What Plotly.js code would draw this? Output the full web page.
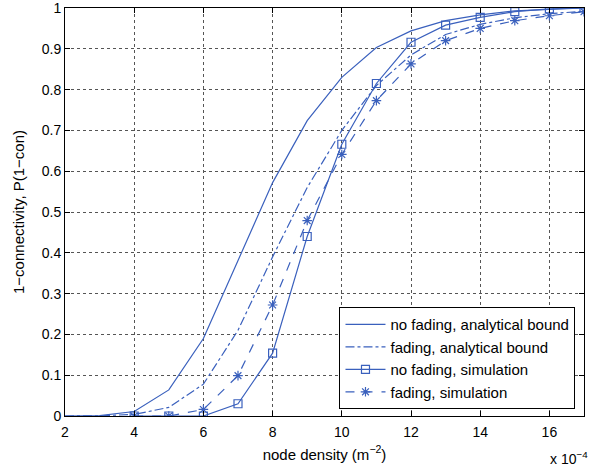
<!DOCTYPE html>
<html>
<head>
<meta charset="utf-8">
<script src="https://cdn.plot.ly/plotly-3.0.1.min.js"></script>
<style>
html,body{margin:0;padding:0;background:#fff;}
#chart{width:597px;height:470px;}
</style>
</head>
<body>
<div id="chart"></div>
<script>
// node density in units of 1e-4 m^-2
var density = [2, 3, 4, 5, 6, 7, 8, 9, 10, 11, 12, 13, 14, 15, 16, 17];
var noFadingBound = [0, 0.001, 0.011, 0.064, 0.19, 0.38, 0.572, 0.724, 0.83, 0.903, 0.944, 0.969, 0.983, 0.993, 0.997, 1.0];
var fadingBound = [0, 0.0005, 0.004, 0.021, 0.078, 0.21, 0.39, 0.56, 0.70, 0.81, 0.885, 0.935, 0.96, 0.976, 0.986, 0.992];

var simDensity = [4, 5, 6, 7, 8, 9, 10, 11, 12, 13, 14, 15, 16, 17];
var noFadingSim = [0, 0, 0, 0.03, 0.154, 0.44, 0.666, 0.815, 0.916, 0.958, 0.977, 0.991, 0.998, 1.0];
var fadingSim = [0, 0, 0.016, 0.099, 0.272, 0.479, 0.641, 0.773, 0.863, 0.92, 0.95, 0.969, 0.981, 0.991];

var xTicks = [2, 4, 6, 8, 10, 12, 14, 16];
var yTicks = [0, 0.1, 0.2, 0.3, 0.4, 0.5, 0.6, 0.7, 0.8, 0.9, 1];
var yTickText = ['0', '0.1', '0.2', '0.3', '0.4', '0.5', '0.6', '0.7', '0.8', '0.9', '1'];

var names = ['no fading, analytical bound', 'fading, analytical bound', 'no fading, simulation', 'fading, simulation'];

var blue = '#3a60bd';
var font = 'Liberation Sans, Arial, Helvetica, sans-serif';

var traces = [
  {x: density, y: noFadingBound, name: names[0], mode: 'lines', line: {color: blue, width: 1.2, dash: 'solid'}},
  {x: density, y: fadingBound, name: names[1], mode: 'lines', line: {color: blue, width: 1.2, dash: 'dashdot'}},
  {x: simDensity, y: noFadingSim, name: names[2], mode: 'lines+markers', line: {color: blue, width: 1.2, dash: 'solid'},
   marker: {symbol: 'square-open', size: 8, color: blue, line: {width: 1.2, color: blue}}},
  {x: simDensity, y: fadingSim, name: names[3], mode: 'lines+markers', line: {color: blue, width: 1.2, dash: 'dash'},
   marker: {symbol: 'asterisk-open', size: 8, color: blue, line: {width: 1.2, color: blue}}}
];

var axisCommon = {
  showline: true, linecolor: '#000', linewidth: 1, mirror: 'ticks',
  ticks: 'inside', ticklen: 5, tickcolor: '#000', tickwidth: 1,
  showgrid: true, gridcolor: '#555', griddash: 'dot', gridwidth: 1,
  zeroline: false, tickfont: {family: font, size: 14, color: '#000'},
  ticklabeloverflow: 'allow'
};

var layout = {
  width: 597, height: 470,
  margin: {l: 65, r: 12.5, t: 8, b: 54},
  paper_bgcolor: '#fff', plot_bgcolor: '#fff',
  font: {family: font, size: 14, color: '#000'},
  xaxis: Object.assign({}, axisCommon, {
    range: [2, 17], tickvals: xTicks, ticktext: xTicks.map(String), ticklabelstandoff: 3,
    title: {text: 'node density (m<sup>−2</sup>)', font: {family: font, size: 15, color: '#000'}, standoff: 10}
  }),
  yaxis: Object.assign({}, axisCommon, {
    range: [0, 1], tickvals: yTicks, ticktext: yTickText,
    title: {text: '1−connectivity, P(1−con)', font: {family: font, size: 15, color: '#000'}, standoff: 13}
  }),
  showlegend: true,
  legend: {
    x: 0.9836, xanchor: 'right', y: 0.017, yanchor: 'bottom',
    bgcolor: '#fff', bordercolor: '#000', borderwidth: 1,
    font: {family: font, size: 15, color: '#000'},
    tracegroupgap: 0, itemwidth: 40
  },
  annotations: [{
    xref: 'paper', yref: 'paper', x: 1.0106, y: -0.103, xanchor: 'right', yanchor: 'middle',
    text: 'x 10<sup>−4</sup>', showarrow: false, font: {family: font, size: 14, color: '#000'}
  }]
};

Plotly.newPlot('chart', traces, layout, {displayModeBar: false, staticPlot: true});
</script>
</body>
</html>
